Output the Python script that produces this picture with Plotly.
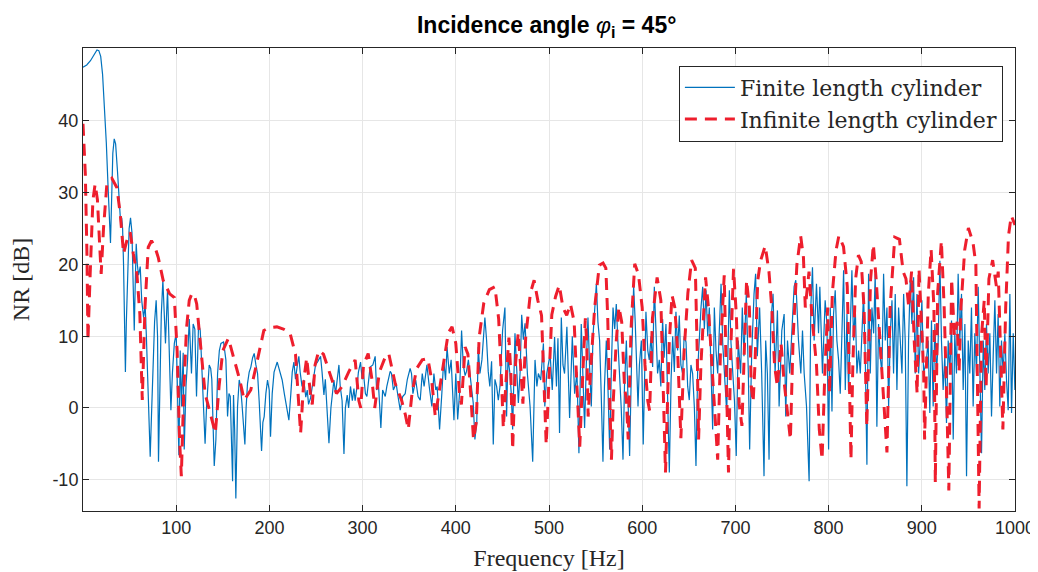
import plotly.graph_objects as go

# Finite length cylinder (blue), (frequency Hz, NR dB)
finite_points = [
    (0,47.5),(4,47.8),(8,48.4),(12,49.3),(15,49.9),(17,49.8),(19,49),(21,46.5),(23,42),(25,37),(27,30.5),
    (28.5,25),(29.5,23),(30.5,28),(32,35.5),(33.5,37.5),(35,36.8),(37,33),(39,28.5),(40.5,25.5),(41.5,26.5),
    (42.5,25),(43.5,20),(44.5,13),(45.5,5),(46.5,12),(48,20),(49.5,25),(51,26.5),(52.5,24.5),(53.5,19),
    (54.3,14),(55,10.8),(56,17),(57.1,22.9),(58.3,20),(59.6,18.5),(61.4,19.7),(63,15),(65,12.6),(66.7,14.3),
    (68,10),(69.5,3),(71,-3),(72.1,-6.8),(73.5,-1),(75,6),(76.8,12),(78.5,15),(80,10),(81,-7.5),(82.3,3),
    (84,13),(85.7,17.8),(87.5,13),(88.5,9),(90.7,16.5),(92.5,8),(94.3,-0.3),(96,5),(98,9),(100,10.4),
    (101.5,3),(102.9,-6.6),
    (104.3,8),(105.7,0.2),(107.5,7.7),(108.6,-5.8),(110.5,3),(112.2,6.7),(114,12.4),(115.2,9),(116.4,4.8),
    (118.2,11.7),(120,11),(121.8,1.6),(124,11.7),(125.8,10.8),(127.5,5),(129.5,-1),(131,-5),(132.5,0),
    (134,4),(135.4,6),(137,5.5),(138.2,4),(139.5,-2),(140.8,-8.1),(142.6,-4.4),(144.4,4.8),(146.3,8),
    (148,9),(150.8,9.2),(153.3,6.7),(155.1,-1.2),(156.6,2),(158,1.6),(159.3,-4),(160.5,-10.2),(161.5,1.8),
    (162.7,-3),(164,-12.6),(165.8,0.2),(167.6,3.9),(169,3),(170.5,0.7),(172.3,-2.8),(173.7,-5.1),(175,0),
    (176.5,3.4),(178.3,5),(180.1,5.7),(182,7),(183.7,7.6),(185.5,6),(187.3,4.8),(189,1),(190.5,-3),
    (191.6,-6),(193,-2),(194.4,-1.2),(196.2,2),(198,3.9),(199.8,2.5),
    (201.2,-4),(203,2),(205,5),(208.4,6.4),(211,5),(213.7,3.9),(216,2),(218,0.5),(220.9,-1.7),(223,2),
    (224.5,5),(226.3,6.4),(228,4),(230,6),(231.6,7.2),(233,5),(235,3),(237,3.9),(239,1.5),(240.6,2.5),
    (242,0.5),(244.2,1.4),(246,3),(247.5,4.5),(249.5,6),(252,6.5),(254.9,7.2),(256.5,5),(258.5,1.8),
    (260,4),(262,0),(263.9,-4.9),(266,0),(268,2.5),(269.2,3.9),(271,2),(272.5,4),(274.6,6),(276,3),
    (278,1),(280,-6.4),(281.5,0),(283.5,1.8),(285,0),(287,3),(289,1),(290.7,2.7),(292,1),(294,3),
    (295.5,5),(297.8,6.4),(299.5,4),
    (301,4.8),(303,2),(304.6,1.6),(306.5,4),(308,5.7),(311,6),(313.5,7.2),(315,2.5),(317,3.4),(319.6,-2.8),
    (321.5,2.5),(324.3,1.6),(326,3),(329.6,5.1),(331,4.8),(333,2.5),(336,3.4),(338,1.6),(340.4,-0.3),
    (343,1.6),(345.7,2),(348,4),(351,5.5),(352.5,4.8),(354,2),(357,3.9),(359.5,1.6),(361.8,1.1),(364,4.8),
    (366,3),(369,6),(371.5,3),(374.3,0.2),(376.5,4.8),(378.5,2.5),(380,3),(382.6,-3),(385,2),(387,6.7),
    (389,3.9),(390.6,8.5),(393,4.8),(395,6.7),(398,-1.7),(400,4.8),
    (402,-1.6),(404,2),(406.2,10.8),(408,6),(410,4.5),(411.5,5.1),(413.5,6.7),(415.1,4.8),(417,3),
    (418.7,0.7),(420.5,-4.4),(422.5,-2),(424.1,8.5),(425.9,4.8),(428,6.7),(431.2,12.6),(433,9.5),
    (434.8,5.1),(436.5,3),(438.4,6.5),(440.2,-5.1),(442,4),(443.8,3),(445.6,1.1),(447.4,3),(450.2,10.8),
    (452.7,14),(454.5,-1.2),(456,7),(458.1,4.8),(459.5,2),(461,-3),(463.5,10.4),(465.5,4.8),(467.1,0.7),
    (469,5),(470.7,13),(472.5,9.5),(474.3,11.8),(476.8,4.8),(479.7,0.2),(482.5,-7.5),(485,6.7),(487,3),
    (488.6,4.8),(491.1,3.9),(494,9),(495.5,0.2),(497.6,4.8),(501.2,7.5),(503.5,2.5),
    (506,9.9),(508,3),(509.6,9.7),(511.3,-3.5),(513.2,12.6),(515,6),(516.7,4.8),(519.2,11.3),(522.1,-1.4),
    (525,10),(527.5,2),(530,5),(532.1,-6.3),(534.6,11.7),(536.5,4),(538.2,-2.8),(540,6),(541.8,12.6),
    (543.5,6),(545.4,0.2),(547.2,10),(549,13),(550.8,17.3),(552.5,12),(554.3,9.4),(556,2),(557.9,-7.5),
    (559.5,3),(561.5,9.4),(563,4),(565.1,-5.8),(567,6),(568.7,14),(570.5,11),(572.2,14.5),(574,9),
    (575.8,4.8),(577.5,0),(579.4,-7.2),(581,3),(583,9.4),(584.5,2),(586.5,-6.7),(588.5,6),(590.8,17),
    (592.5,12),(594,5),(595.5,0.2),(597,6),(599.1,9.4),(601.1,-5.1),
    (604,13.4),(606,8),(607.6,6.7),(609.5,10),(611.2,5.7),(613,16.9),(615,9),(616.5,4.8),(618.3,6.7),
    (620,3),(621.9,12.4),(623.5,7),(625.5,11.7),(627.5,2),(629.1,-9),(631,4),(632.7,10),(634.5,5),
    (636.2,13.4),(638,8),(639.8,12.9),(641.5,6),(643.4,4.8),(645,10),(647,9.2),(648.8,3),(650.5,1.1),
    (652.3,6),(654.1,4.8),(656,0),(657.7,-8.1),(659.5,5.2),(661.3,10),(663.1,14),(664.9,16.9),(666.7,11),
    (668.5,16.4),(670.3,10),(672,14),(673.8,4),(675.6,-3),(677.4,14),(679.2,8),(681,4.8),(682.8,11),
    (684.6,17.3),(686.4,9),(688.1,4.8),(690.7,-0.7),(692,8),(693.5,16.4),(695.3,9),(697.1,4.8),(699,1),
    (700.9,-6.7),(703,9.4),(705.6,4.8),(707.4,14),(709.2,7.2),(711.7,15.9),(713.9,4.8),(715.3,-5.8),
    (717.4,7.2),(720,15.9),(721.7,18.7),(723.5,7.2),(726,14),(728.2,4.8),(730.7,-9.5),(732.5,9.4),
    (734.3,4.8),(736.1,-7.2),(737.9,11.7),(740.4,15.9),(742.6,4.8),(745.1,13.6),(746.9,0.2),(749.8,10.8),
    (752.3,13.1),(754,-1.2),(755.9,9.4),(758.3,4.8),(760.5,10.4),(763,16.9),(764.8,17.8),(767.7,9.4),
    (770.2,4.8),(772,10.8),(773.8,4.8),(776.3,0.2),(779.1,-10.2),(780.9,14),(782.7,19.6),(784.5,9.4),
    (787,17.3),(789.2,10.4),(790.6,16.9),(793.4,4.8),(796.3,15),(798.2,11.7),
    (800,-5.8),(801.8,14),(803.6,-0.5),(805.3,13.1),(807.1,16.4),(808.9,9.4),(810.7,6.7),(812.5,2),
    (814.3,10.4),(816.1,19.2),(817.9,2.5),(819.7,13.1),(821.4,2.3),(823.2,11.7),(825,19.2),(826.8,9.4),
    (828.6,14),(830.4,4.8),(832.2,8),(834,4.8),(835.7,10.4),(837.5,15.9),(839.3,7.2),(841.1,-7.9),
    (842.9,18.7),(844.7,4.8),(846.5,14),(848.3,10.4),(850,18.7),(851.8,-2.6),(853.6,11.7),(855.4,7.2),
    (857.2,4.8),(859,18.7),(860.8,9.4),(862.6,14),(864.4,0.2),(866.2,10.4),(868,15),(869.7,4.8),
    (871.5,15.9),(873.3,2.5),(875.1,14),(876.9,9.4),(878.7,4.8),(880.5,15.9),(882.2,9.4),(884,-10.9),
    (885.8,9.4),(887.6,17.8),(889.4,11.7),(891.2,18.2),(893,4.8),(894.8,15.9),(896.6,4.8),(898.3,9.4),
    (900.1,15),(901.9,4.8),
    (905,6.7),(906.8,9.4),(908.6,-0.7),(910.4,12.2),(912.2,0.2),(914,11.7),(915.8,4.8),(917.6,9.4),
    (919.4,20.5),(921.1,9.4),(922.9,2.5),(924.7,7.2),(926.5,-2.1),(928.3,9.4),(930.1,4.8),(931.9,12.2),
    (933.7,-4.4),(935.4,10.4),(937.2,4.8),(939,18.7),(940.8,9.4),(942.6,15.9),(944.4,2.5),(946.2,11.7),
    (948,-9.5),(949.8,9.4),(951.5,4.8),(953.3,14),(955.1,0.2),(956.9,10.4),(958.7,4.8),(960.5,16.9),
    (962.3,4.8),(964.1,-6.3),(965.9,9.4),(967.6,2.5),(969.4,11.7),(971.2,4.8),(973,10.4),(974.8,-1.2),
    (976.6,7.2),(978.4,15),(980.2,4.8),(981.9,13.1),(983.7,0.2),(985.5,9.4),(987.3,4.8),(989.1,10.4),
    (990.9,3.9),(992.7,-0.3),(994.5,15.9),(996.3,-0.7),(998.1,10.4),(999.9,2.5),
]

# Infinite length cylinder (red dashed)
infinite_points = [
    (0,39.6),(2.5,32.6),(4.3,21),(5.3,9.4),(7.7,18.7),(10.6,28.9),(13,31.2),(15.5,29),(18,22.4),(19.5,18.7),
    (22,25),(25.6,31.2),(31,32),(36.4,30.7),(40,27),(43.5,21.5),(47,23.3),(50.6,24.5),(54,21.5),(57.8,18.7),
    (61,13.1),(63.6,1.1),(66.5,14),(70,22.4),(73.5,23.3),(77,22.5),(80.7,21),(86,17.8),(93,15.9),(98,15.4),
    (101,8),(103.5,-4),(105.5,-9.5),(108,2),(111,11),(114,15),(117,16),(120,15.5),(122,14.5),(127,8),
    (131,2),(137,-1),(142,-3.5),(146,3),(150,8),(156,9.7),(162,7),(168,4),(173,1.1),(180,2.5),(186,6),
    (194,10.8),(200,11.2),(208,11.3),(215,11),(222,10.5),(228,7.5),(231,2),(233.5,-3.5),(237,4),(240,7),
    (244,2),(246,0.5),(249,6),(253,8),(258,7.5),(264,5),(272,2),(278,3),(285,5),(292,6.7),(296,1),(298,0),
    (301,6),(306,7.6),(310,4),(313,0),(318,5),(324,7),(328,7.6),(335,3.4),(342,1),(346,-1),(349,-3),
    (353,2),(358,5.5),(364,6.7),(370,6.9),(374,4),(378,-1.2),(383,3),(388,7),(392,10.5),(396,11.3),
    (400,9),(404,2),(406,0.5),(410,8.5),(413,7.5),(416,2),(419,-4.4),(422,-2),(425,9.8),(430,14.6),
    (436,16.5),(442,16.9),(446,12.4),(449,4),(451,-2.8),(454,4),(457,9.8),(459,5),(461,-5.8),(464,6),
    (467,10.5),(470,5),(472,0.6),(475,9.8),(480,16),(484,17.8),(488,15),(492,12.9),(495,1),(497,-5.1),
    (500,4),(503,13),(507,15.5),(511,17.1),(515,14),(519,12.9),(523,14.5),(527,12),(530,3),(533,-5.4),
    (536,4),(539,12.5),(540.5,9),(542,-1.2),(545,6),(549,14),(554,19.9),(558,20.2),(561,19.5),(563,12.6),
    (565,2),(567,-7.2),(569,1),(572,9),(575,14.1),(578,12),(581,3),(583,1.1),(585,-4.4),(588,11),
    (592,20.1),(596,18.6),(600,14),(603,6),(606,1),(608,-0.4),(611,12.5),(616,18.2),(620,15),(622,5),
    (625,-9),(627,0),(629,9),(632,15.7),(635,14),(638,8),(641.5,-4.2),(645,8),(649,16),(653,20.6),
    (657,19.5),(659,8),(660.5,-4.4),(663,6),(668,18.2),(671,14.1),(675,5),(678,-2),(681,-7.2),(684,8),
    (688,18.5),(690,6),(692.6,-9),(695,8),(698,19.4),(701,13),(704,0.6),(707,-2.5),(710,10),(712,17.8),
    (715,14),(717,3),(719,0.8),(721,6),(724,17.8),(727,20.5),(732,22.6),(736,19),(739,14),(742,6),
    (745,3),(749,9),(752,4),(756,-1),(759,-4.4),(762,10),(766,20),(770,24),(773,21),(775,14),(779,19),
    (782,13),(787,6),(790,-3),(793,-7.2),(796,5),(799,14),(801,2),(804,16),(808,22),(811,24),(816,22.5),
    (820,17),(822,6),(824,-7.2),(826,6),(829,18),(832,21.3),(835,20.4),(838,14),(841,-2.6),(845,17.8),
    (848,22.8),(851,18),(854,12),(858,4),(862.6,-6.2),(866,14),(868,18.5),(871,23.8),(876,23.5),(880,19),
    (883,18),(886,14),(889,19),(892,9),(895,2),(897,19.4),(900,11),(902,5),(903,-4.4),(907,16),(910,22.1),
    (913,14),(914.5,-10.4),(917,16),(921,23.3),(924,14),(927,0),(929,-11.5),(932,18),(935,10),(938,12),
    (940,5),(942,14),(946,22),(950,25.1),(955,23),(958,20),(960,3),(961.5,-14),(964,10),(967,15),(969,3),
    (972,18),(976,20.6),(980,17),(982,19),(985,5),(987,-3),(990,14),(993,24),(996,26.8),(1000,25.5),
]

x_ticks = [100, 200, 300, 400, 500, 600, 700, 800, 900, 1000]
y_ticks = [-10, 0, 10, 20, 30, 40]

finite_f = [p[0] for p in finite_points]
finite_nr = [p[1] for p in finite_points]
infinite_f = [p[0] for p in infinite_points]
infinite_nr = [p[1] for p in infinite_points]

fig = go.Figure()
fig.add_trace(go.Scatter(x=finite_f, y=finite_nr, mode="lines", name="Finite length cylinder",
                         line=dict(color="#0072BD", width=1.2)))
fig.add_trace(go.Scatter(x=infinite_f, y=infinite_nr, mode="lines", name="Infinite length cylinder",
                         line=dict(color="#EE1E2D", width=3, dash="12px,8px")))

axis_common = dict(showline=True, linecolor="#262626", linewidth=1, mirror="ticks",
                   ticks="inside", ticklen=6, tickcolor="#262626", showgrid=True,
                   gridcolor="#E6E6E6", gridwidth=1, zeroline=False, automargin=False,
                   tickfont=dict(family="Liberation Sans, Arial", size=18, color="#262626"))

fig.update_xaxes(range=[0, 1000], tickvals=x_ticks, ticktext=[str(v) for v in x_ticks],
                 title=dict(text="Frequency [Hz]", font=dict(family="Liberation Serif", size=24, color="#262626"),
                            standoff=12),
                 **axis_common)
fig.update_yaxes(range=[-14.36, 50.17], tickvals=y_ticks, ticktext=[str(v) for v in y_ticks],
                 title=dict(text="NR [dB]", font=dict(family="Liberation Serif", size=24, color="#262626"),
                            standoff=17),
                 **axis_common)

# the page draws the figure 8 px in from the top-left corner, so the figure is 8 px smaller
fig.update_layout(
    width=1030, height=564,
    margin=dict(l=75, r=23, t=40, b=61, autoexpand=False),
    plot_bgcolor="white", paper_bgcolor="white",
    title=dict(text="<b>Incidence angle </b><i>φ</i><sub><b>i</b></sub><b> = 45°</b>",
               x=0.523, xanchor="center", y=0.970, yanchor="middle", automargin=False,
               font=dict(family="Liberation Sans, Arial", size=23, color="#000000")),
    legend=dict(x=0.987, y=0.962, xanchor="right", yanchor="top",
                bgcolor="white", bordercolor="#262626", borderwidth=1,
                font=dict(family="DejaVu Serif", size=22, color="#262626"),
                itemwidth=50, tracegroupgap=0),
    showlegend=True,
)

fig.write_html("out.html")
